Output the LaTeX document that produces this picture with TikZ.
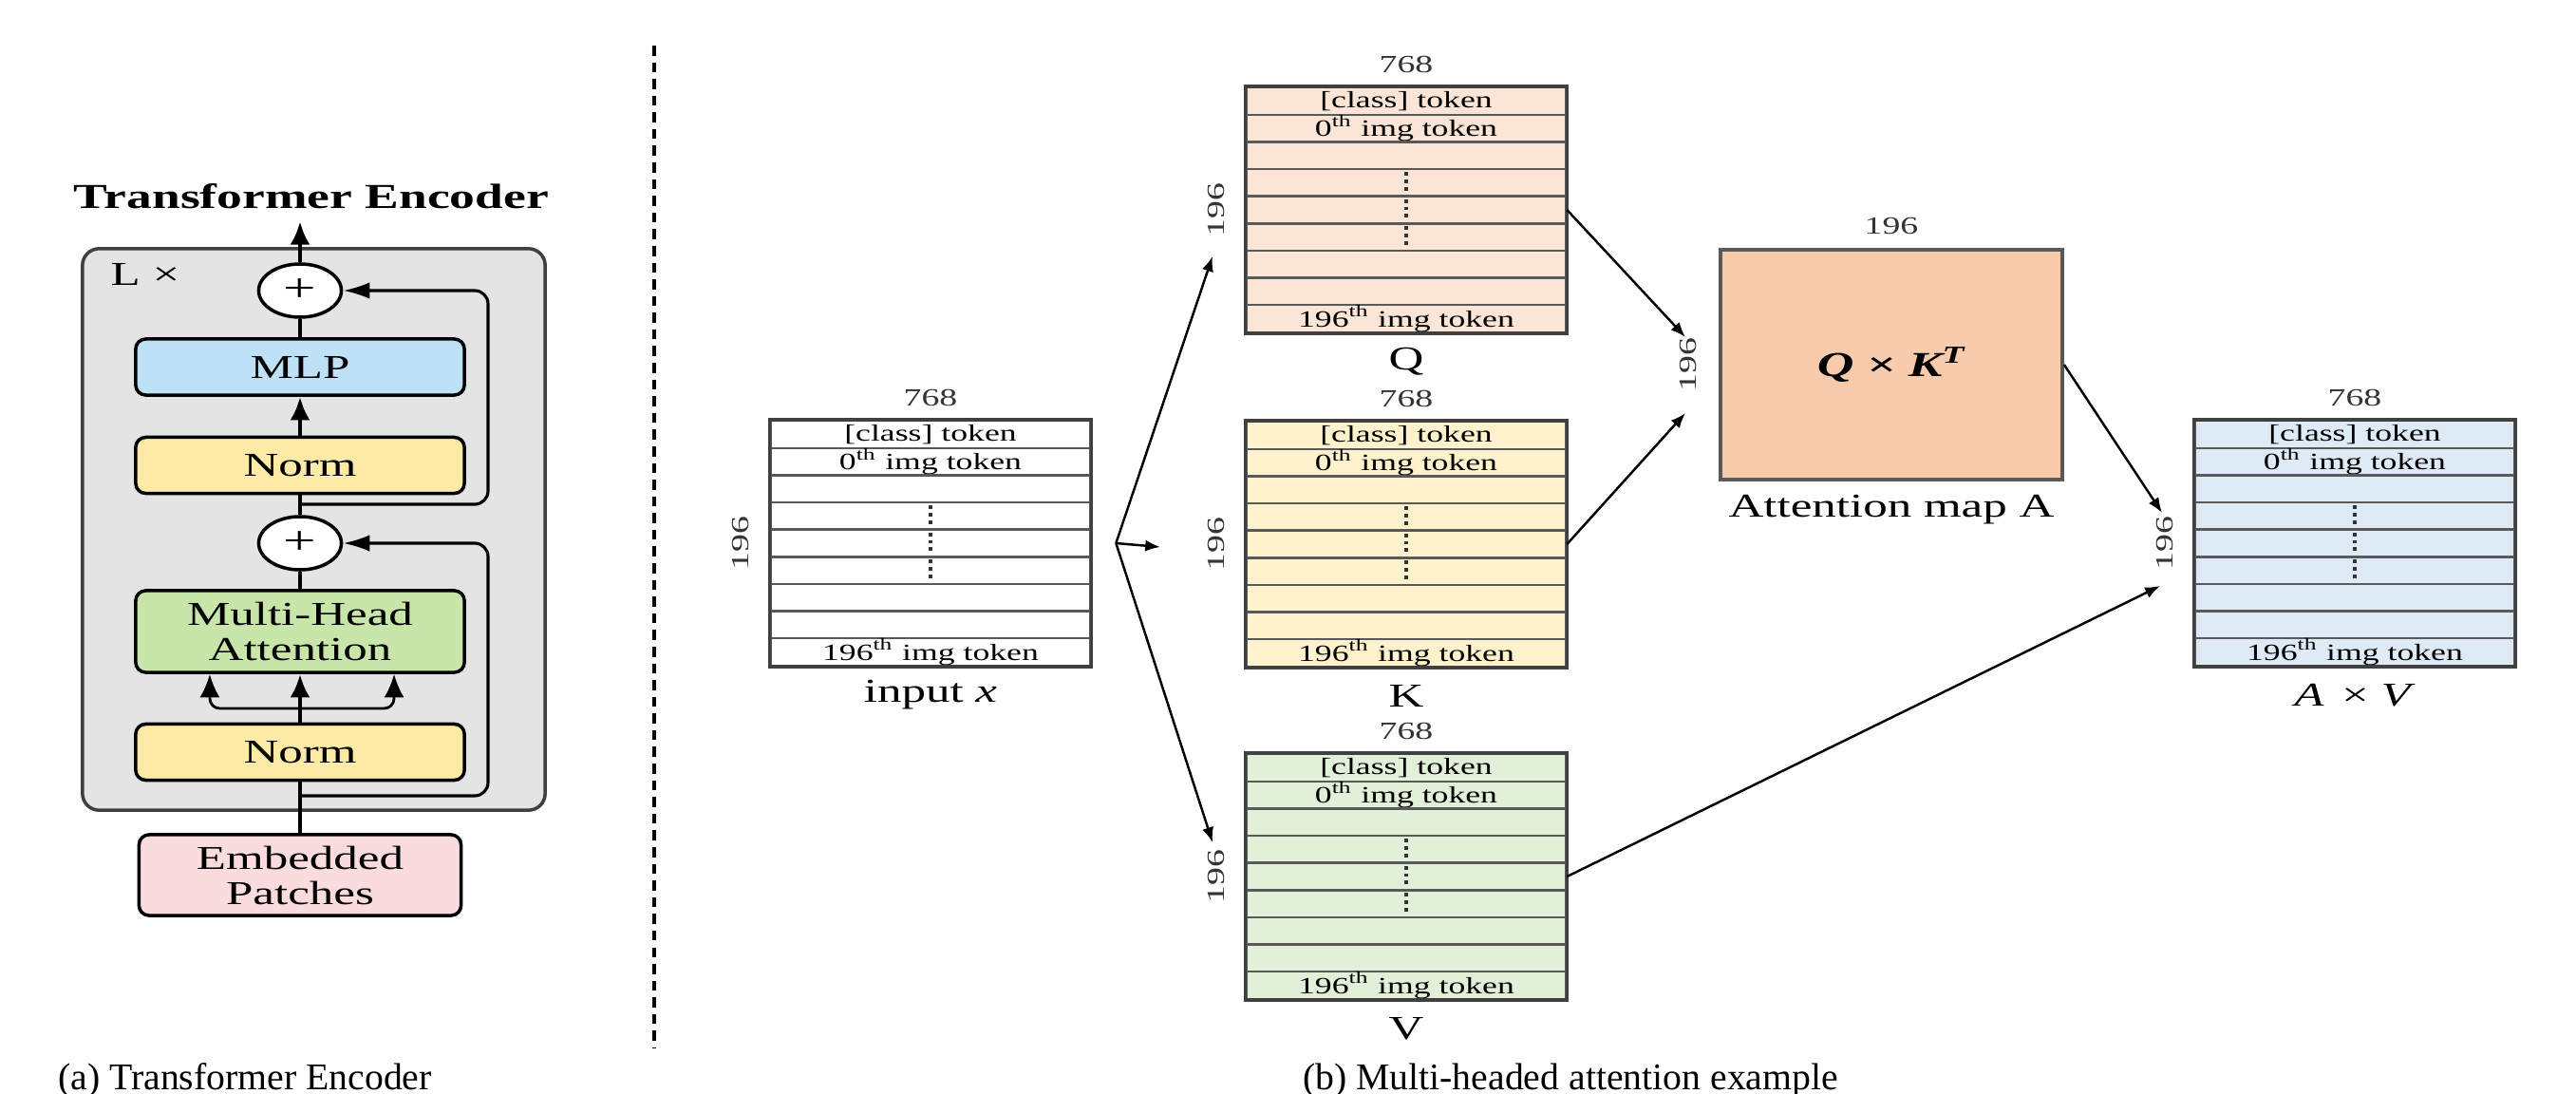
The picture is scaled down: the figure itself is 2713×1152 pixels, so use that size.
\documentclass[tikz,border=0pt]{standalone}
\usepackage{fontspec}
\setmainfont{Liberation Serif}[FakeStretch=1.45]
\newfontfamily\capfont{Liberation Serif}
\usetikzlibrary{arrows.meta,shapes.geometric,matrix}

\definecolor{encgray}{HTML}{E4E4E4}
\definecolor{mlpblue}{HTML}{BFE1F5}
\definecolor{normyellow}{HTML}{FCEAA6}
\definecolor{mhagreen}{HTML}{C8E6AA}
\definecolor{embpink}{HTML}{FADCDE}
\definecolor{qpeach}{HTML}{FBE5D6}
\definecolor{kyellow}{HTML}{FFF2CC}
\definecolor{vgreen}{HTML}{E2F0D9}
\definecolor{avblue}{HTML}{DEEBF7}
\definecolor{attorange}{HTML}{F8CBAD}

\tikzset{
  encbox/.style={draw, line width=1pt, rounded corners=3pt, minimum width=3.46cm, minimum height=0.59cm,
    inner sep=0pt, align=center, font=\fontsize{10}{10.5}\selectfont},
  addnode/.style={ellipse, draw, fill=white, line width=1pt, minimum width=0.87cm, minimum height=0.56cm,
    inner sep=0pt, font=\fontsize{12}{12}\selectfont},
  mainline/.style={line width=1.4pt},
  mainarrow/.style={line width=1.4pt, -{Latex[length=7pt,width=6pt]}},
  skipline/.style={line width=0.9pt, rounded corners=4pt, -{Latex[length=8pt,width=5pt]}},
  sideline/.style={line width=0.8pt, rounded corners=3pt, -{Latex[length=7pt,width=6pt]}},
  tokmat/.style={matrix of nodes, nodes in empty cells, inner sep=0pt, outer sep=0pt, row sep=-0.7pt,
    nodes={draw=black!65, line width=0.7pt, minimum width=3.36cm, minimum height=0.286cm,
      inner sep=0pt, outer sep=0pt, font=\fontsize{7}{8}\selectfont}},
  dimlbl/.style={inner sep=0pt, text=black!80, font=\fontsize{7.4}{8}\selectfont},
  matlbl/.style={inner sep=0pt, font=\fontsize{10}{12}\selectfont},
  arr/.style={line width=0.7pt, -{Latex[length=4.5pt,width=3.5pt]}},
  subcap/.style={inner sep=0pt, font=\capfont\fontsize{11.3}{13}\selectfont}
}

% token matrix: name, centre, fill, label below
\newcommand{\tokmat}[4]{%
  \matrix (#1) [tokmat, nodes={fill=#3}] at (#2) {
    {[class] token} \\
    0\textsuperscript{th} img token \\
    \\ \\ \\ \\ \\ \\
    196\textsuperscript{th} img token \\
  };
  \foreach \r in {4,5,6}
    \draw[black!80, line width=1.1pt, dash pattern=on 1.1pt off 1.1pt]
      ([yshift=-0.9pt]#1-\r-1.north) -- ([yshift=0.9pt]#1-\r-1.south);
  \draw[black!75, line width=1pt] (#1.north west) rectangle (#1.south east);
  \node[dimlbl] (#1-top) at ([yshift=0.23cm]#1.north) {768};
  \node[dimlbl, rotate=90] (#1-side) at ([xshift=-0.31cm]#1.west) {196};
  \node[matlbl] (#1-name) at ([yshift=-0.3cm]#1.south) {#4};
}

\begin{document}
\begin{tikzpicture}[x=0.01cm, y=-0.01cm]
\useasboundingbox (0,0) rectangle (2713,1152);

% (a) encoder block
\node[draw=black!75, fill=encgray, line width=1pt, rounded corners=5pt,
  minimum width=4.87cm, minimum height=5.91cm] (enc) at (330.5,557.5) {};
\node[inner sep=0pt, font=\fontsize{10.5}{12}\selectfont\bfseries] (title) at (328,207) {Transformer Encoder};
\node[inner sep=0pt, font=\fontsize{10}{12}\selectfont] (lx) at (153,289) {L ×};
\node[addnode] (add2) at (316,306) {+};
\node[encbox, fill=mlpblue] (mlp) at (316,386.5) {MLP};
\node[encbox, fill=normyellow] (norm2) at (316,490) {Norm};
\node[addnode] (add1) at (316,572) {+};
\node[encbox, fill=mhagreen, minimum height=0.86cm] (mha) at (316,665) {Multi-Head\\Attention};
\node[encbox, fill=normyellow] (norm1) at (316,792) {Norm};
\node[encbox, fill=embpink, minimum width=3.39cm, minimum height=0.85cm] (emb) at (316,921.5) {Embedded\\Patches};
\coordinate (encout) at (316,233);
\coordinate (res1) at (316,838);
\coordinate (res2) at (316,531);
\coordinate (split) at (316,746);

\draw[mainline] (emb.north) -- (norm1.south);
\draw[mainarrow] (norm1.north) -- (mha.south);
\draw[sideline] (split) -| ([xshift=-0.95cm]mha.south);
\draw[sideline] (split) -| ([xshift=0.99cm]mha.south);
\draw[mainline] (mha.north) -- (add1.south);
\draw[mainline] (add1.north) -- (norm2.south);
\draw[mainarrow] (norm2.north) -- (mlp.south);
\draw[mainline] (mlp.north) -- (add2.south);
\draw[mainarrow] (add2.north) -- (encout);
\draw[skipline] (res1) -- ++(198,0) |- (add1.east);
\draw[skipline] (res2) -- ++(198,0) |- (add2.east);

\draw[densely dashed, line width=1pt] (689,48) -- (689,1104);

% (b) attention example
\tokmat{inp}{980,572}{white}{input \textit{x}}
\tokmat{q}{1481,221}{qpeach}{Q}
\tokmat{k}{1481,573}{kyellow}{K}
\tokmat{v}{1481,923}{vgreen}{V}
\tokmat{av}{2480,572}{avblue}{\textit{A}\, × \textit{V}}

\node[draw=black!65, line width=1pt, fill=attorange, minimum width=3.6cm, minimum height=2.42cm,
  font=\fontsize{10.5}{12}\selectfont\bfseries\itshape] (att) at (1992,384) {Q × K\textsuperscript{T}};
\node[dimlbl] (att-top) at ([yshift=0.23cm]att.north) {196};
\node[dimlbl, rotate=90] (att-side) at ([xshift=-0.32cm]att.west) {196};
\node[matlbl] (att-name) at ([yshift=-0.3cm]att.south) {Attention map A};

\coordinate (fork) at ([xshift=0.26cm]inp.east);
\coordinate (qin) at (1277,270);
\coordinate (kin) at (1222,576);
\coordinate (vin) at (1277,887);
\coordinate (attq) at (1775,355);
\coordinate (attk) at (1775,435);
\coordinate (avatt) at (2277,540);
\coordinate (avv) at (2275,617);

\draw[arr] (fork) -- (qin);
\draw[arr] (fork) -- (kin);
\draw[arr] (fork) -- (vin);
\draw[arr] (q.east) -- (attq);
\draw[arr] (k.east) -- (attk);
\draw[arr] (att.east) -- (avatt);
\draw[arr] (v.east) -- (avv);

\node[subcap] (capa) at (258,1138) {(a) Transformer Encoder};
\node[subcap] (capb) at (1654,1138) {(b) Multi-headed attention example};
\end{tikzpicture}
\end{document}
